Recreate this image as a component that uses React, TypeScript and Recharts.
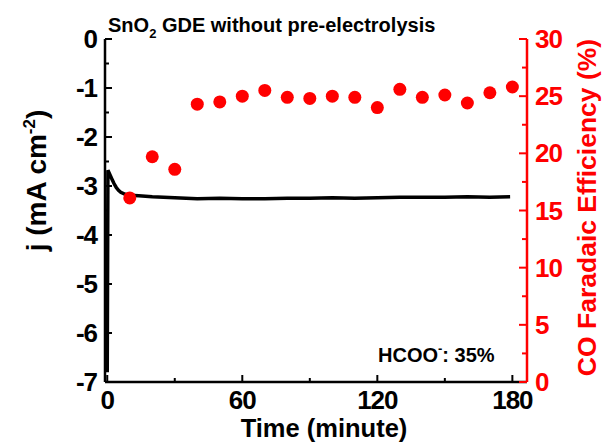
import React from 'react'
import { ComposedChart, Line, Scatter, XAxis, YAxis, Label } from 'recharts'

// current density trace
const timeMin = [0, 0.3, 1, 2, 3, 4, 5, 6, 8, 10, 14, 20, 25, 30, 40, 50, 60, 70, 80, 90, 100, 110, 120, 130, 140, 150, 160, 170, 179]
const currentJ = [-6.8, -2.68, -2.75, -2.85, -2.95, -3.03, -3.09, -3.13, -3.17, -3.19, -3.2, -3.22, -3.23, -3.24, -3.26, -3.25, -3.26, -3.26, -3.25, -3.25, -3.24, -3.25, -3.24, -3.23, -3.23, -3.23, -3.22, -3.23, -3.22]

// CO faradaic efficiency points (red dots)
const feTime = [10, 20, 30, 40, 50, 60, 70, 80, 90, 100, 110, 120, 130, 140, 150, 160, 170, 180]
const feCO = [16.1, 19.7, 18.6, 24.3, 24.5, 25.0, 25.5, 24.9, 24.8, 25.0, 24.9, 24.0, 25.6, 24.9, 25.1, 24.4, 25.3, 25.8]

const xTicks = [0, 30, 60, 90, 120, 150, 180]
const jTicks = [-7, -6.5, -6, -5.5, -5, -4.5, -4, -3.5, -3, -2.5, -2, -1.5, -1, -0.5, 0]
const feTicks = [0, 2.5, 5, 7.5, 10, 12.5, 15, 17.5, 20, 22.5, 25, 27.5, 30]

const lineData = timeMin.map((t, i) => ({ t, j: currentJ[i] }))
const dotData = feTime.map((t, i) => ({ t, fe: feCO[i] }))

const FONT = '"Liberation Sans", Arial, sans-serif'
const RED = '#ff0000'
const GAP = 8

const XTick = (props: any) => {
  const { x, y, payload } = props
  const axisY = y - GAP
  const major = payload.value % 60 === 0
  return (
    <g>
      <line x1={x} x2={x} y1={axisY} y2={axisY - (major ? 7 : 4)} stroke="#000" strokeWidth={2} />
      {major && (
        <text x={x} y={axisY + 27} textAnchor="middle" fontFamily={FONT} fontWeight="bold" fontSize={26} fill="#000" letterSpacing={-1}>
          {payload.value}
        </text>
      )}
    </g>
  )
}

const JTick = (props: any) => {
  const { x, y, payload } = props
  const axisX = x + GAP
  const major = payload.value % 1 === 0
  return (
    <g>
      <line x1={axisX} x2={axisX + (major ? 7 : 4)} y1={y} y2={y} stroke="#000" strokeWidth={2} />
      {major && (
        <text x={x} y={y} dy="0.35em" textAnchor="end" fontFamily={FONT} fontWeight="bold" fontSize={26} fill="#000" letterSpacing={-1}>
          {payload.value}
        </text>
      )}
    </g>
  )
}

const FeTick = (props: any) => {
  const { x, y, payload } = props
  const axisX = x - GAP
  const major = payload.value % 5 === 0
  return (
    <g>
      <line x1={axisX} x2={axisX - (major ? 8 : 5)} y1={y} y2={y} stroke={RED} strokeWidth={2} />
      {major && (
        <text x={x} y={y} dy="0.35em" textAnchor="start" fontFamily={FONT} fontWeight="bold" fontSize={26} fill={RED} letterSpacing={-1}>
          {payload.value}
        </text>
      )}
    </g>
  )
}

const JLabel = ({ viewBox }: any) => {
  const cx = viewBox.x + 36
  const cy = viewBox.y + viewBox.height / 2 - 30
  return (
    <text transform={`translate(${cx},${cy}) rotate(-90)`} textAnchor="middle" dy="0.35em" fontFamily={FONT} fontWeight="bold" fontSize={28} fill="#000">
      j (mA cm<tspan dy={-11} fontSize={17}>-2</tspan><tspan dy={11}>)</tspan>
    </text>
  )
}

const FeLabel = ({ viewBox }: any) => {
  const cx = viewBox.x + 60
  const cy = viewBox.y + viewBox.height / 2 - 3
  return (
    <text transform={`translate(${cx},${cy}) rotate(-90)`} textAnchor="middle" dy="0.35em" fontFamily={FONT} fontWeight="bold" fontSize={26.5} fill={RED}>
      CO Faradaic Efficiency (%)
    </text>
  )
}

const TimeLabel = ({ viewBox }: any) => (
  <text x={viewBox.x + viewBox.width / 2 + 8} y={viewBox.y + 55} textAnchor="middle" fontFamily={FONT} fontWeight="bold" fontSize={25.5} fill="#000">
    Time (minute)
  </text>
)

export default function App() {
  return (
    <div style={{ position: 'absolute', left: 0, top: 0, width: 602, height: 445, background: '#fff' }}>
      <ComposedChart width={602} height={445} margin={{ top: 39, right: 0, bottom: 0, left: 0 }}>
        <XAxis
          dataKey="t"
          type="number"
          domain={[-1, 186.5]}
          ticks={xTicks}
          interval={0}
          allowDataOverflow
          height={63}
          tickSize={0}
          tickMargin={GAP}
          tickLine={false}
          axisLine={{ stroke: '#000', strokeWidth: 2.5 }}
          tick={<XTick />}
        >
          <Label content={<TimeLabel />} />
        </XAxis>
        <YAxis
          yAxisId="j"
          type="number"
          domain={[-7, 0]}
          ticks={jTicks}
          interval={0}
          allowDataOverflow
          width={105}
          tickSize={0}
          tickMargin={GAP}
          tickLine={false}
          axisLine={{ stroke: '#000', strokeWidth: 2.5 }}
          tick={<JTick />}
        >
          <Label content={<JLabel />} />
        </YAxis>
        <YAxis
          yAxisId="fe"
          orientation="right"
          type="number"
          domain={[0, 30]}
          ticks={feTicks}
          interval={0}
          width={75}
          tickSize={0}
          tickMargin={GAP}
          tickLine={false}
          axisLine={{ stroke: RED, strokeWidth: 2.5 }}
          tick={<FeTick />}
        >
          <Label content={<FeLabel />} />
        </YAxis>
        <Line
          yAxisId="j"
          data={lineData}
          dataKey="j"
          type="linear"
          stroke="#000"
          strokeWidth={3.5}
          dot={false}
          isAnimationActive={false}
        />
        <Scatter
          yAxisId="fe"
          data={dotData}
          dataKey="fe"
          fill={RED}
          shape={(p: any) => <circle cx={p.cx} cy={p.cy} r={6.5} fill={RED} />}
          isAnimationActive={false}
        />
      </ComposedChart>
      <svg width={602} height={445} style={{ position: 'absolute', left: 0, top: 0, pointerEvents: 'none' }}>
        <text x={108} y={32} fontFamily={FONT} fontWeight="bold" fontSize={20} fill="#000">
          SnO<tspan dy={6} fontSize={13}>2</tspan><tspan dy={-6}> GDE without pre-electrolysis</tspan>
        </text>
        <text x={378} y={362} fontFamily={FONT} fontWeight="bold" fontSize={20} fill="#000">
          HCOO<tspan dy={-9} fontSize={13}>-</tspan><tspan dy={9}>: 35%</tspan>
        </text>
      </svg>
    </div>
  )
}
